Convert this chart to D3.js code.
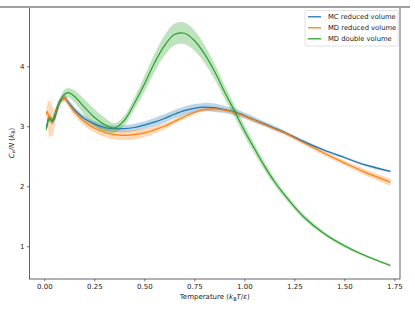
<!DOCTYPE html>
<html>
<head>
<meta charset="utf-8">
<script src="https://cdn.jsdelivr.net/npm/d3@7"></script>
<style>
  body { margin: 0; background: #fff; }
  text { font-family: "DejaVu Sans", sans-serif; fill: #222; }
</style>
</head>
<body>
<div id="chart"></div>
<script>
// Temperature grid shared by all three series
const temps = [0.01, 0.015, 0.02, 0.025, 0.03, 0.04, 0.05, 0.06, 0.08, 0.10, 0.12, 0.15,
    0.20, 0.25, 0.30, 0.35, 0.40, 0.45, 0.50, 0.55, 0.60, 0.65, 0.70, 0.75, 0.80, 0.85,
    0.90, 0.95, 1.00, 1.05, 1.10, 1.15, 1.20, 1.30, 1.40, 1.50, 1.60, 1.73];

// MC reduced volume
const mcReduced = [2.97, 3.05, 3.13, 3.15, 3.12, 3.10, 3.17, 3.28, 3.43, 3.47, 3.40, 3.28,
    3.13, 3.04, 2.98, 2.96, 2.96, 2.98, 3.02, 3.07, 3.13, 3.20, 3.26, 3.30, 3.32, 3.31,
    3.28, 3.24, 3.18, 3.11, 3.04, 2.97, 2.90, 2.74, 2.60, 2.48, 2.36, 2.25];
const mcReducedErr = [0.06, 0.06, 0.06, 0.06, 0.06, 0.06, 0.06, 0.06, 0.05, 0.05, 0.05, 0.05,
    0.05, 0.05, 0.05, 0.05, 0.06, 0.06, 0.06, 0.07, 0.07, 0.07, 0.07, 0.07, 0.07, 0.07,
    0.06, 0.06, 0.05, 0.05, 0.04, 0.04, 0.03, 0.03, 0.02, 0.02, 0.02, 0.02];

// MD reduced volume
const mdReduced = [3.20, 3.25, 3.18, 3.10, 3.14, 3.08, 3.12, 3.25, 3.42, 3.47, 3.38, 3.24,
    3.08, 2.97, 2.90, 2.86, 2.85, 2.86, 2.89, 2.94, 3.00, 3.08, 3.16, 3.23, 3.28, 3.29,
    3.27, 3.23, 3.17, 3.10, 3.03, 2.96, 2.89, 2.72, 2.55, 2.39, 2.24, 2.07];
const mdReducedErr = [0.08, 0.12, 0.25, 0.30, 0.30, 0.25, 0.15, 0.08, 0.05, 0.05, 0.05, 0.06,
    0.07, 0.07, 0.08, 0.08, 0.08, 0.08, 0.07, 0.06, 0.05, 0.04, 0.04, 0.03, 0.03, 0.03,
    0.03, 0.03, 0.03, 0.03, 0.03, 0.03, 0.03, 0.03, 0.04, 0.04, 0.05, 0.06];

// MD double volume
const mdDouble = [2.95, 3.03, 3.10, 3.13, 3.12, 3.08, 3.12, 3.22, 3.42, 3.53, 3.56, 3.50,
    3.32, 3.15, 3.03, 2.97, 3.10, 3.38, 3.70, 4.05, 4.34, 4.53, 4.55, 4.43, 4.21, 3.92,
    3.58, 3.26, 2.93, 2.63, 2.34, 2.08, 1.86, 1.48, 1.21, 1.01, 0.85, 0.68];
const mdDoubleErr = [0.05, 0.05, 0.05, 0.05, 0.05, 0.05, 0.05, 0.06, 0.07, 0.08, 0.08, 0.10,
    0.13, 0.14, 0.12, 0.08, 0.08, 0.10, 0.13, 0.15, 0.17, 0.18, 0.18, 0.17, 0.15, 0.13,
    0.11, 0.10, 0.09, 0.08, 0.07, 0.06, 0.05, 0.04, 0.03, 0.03, 0.02, 0.02];

const xTicks = [0, 0.25, 0.5, 0.75, 1.0, 1.25, 1.5, 1.75];
const yTicks = [1, 2, 3, 4];

const series = [
    { name: "MC reduced volume", mean: mcReduced, err: mcReducedErr, color: "#1f77b4" },
    { name: "MD reduced volume", mean: mdReduced, err: mdReducedErr, color: "#ff7f0e" },
    { name: "MD double volume", mean: mdDouble, err: mdDoubleErr, color: "#2ca02c" }
];

const W = 415, H = 312;
const plotLeft = 29.5, plotRight = 400, plotTop = 7, plotBottom = 279;

const svg = d3.select("#chart")
    .append("svg")
    .attr("width", W)
    .attr("height", H);

const x = d3.scaleLinear()
    .domain([-0.074, 1.778])
    .range([plotLeft, plotRight]);

const y = d3.scaleLinear()
    .domain([0.455, 4.988])
    .range([plotBottom, plotTop]);

// Bands first, then lines on top
const area = d3.area()
    .x(d => x(d.t))
    .y0(d => y(d.m - d.e))
    .y1(d => y(d.m + d.e))
    .curve(d3.curveCatmullRom);

const line = d3.line()
    .x(d => x(d.t))
    .y(d => y(d.m))
    .curve(d3.curveCatmullRom);

const plot = svg.append("g");

series.forEach(s => {
    const pts = temps.map((t, i) => ({ t, m: s.mean[i], e: s.err[i] }));
    plot.append("path")
        .attr("d", area(pts))
        .attr("fill", s.color)
        .attr("fill-opacity", 0.3)
        .attr("stroke", "none");
});

series.forEach(s => {
    const pts = temps.map((t, i) => ({ t, m: s.mean[i], e: s.err[i] }));
    plot.append("path")
        .attr("d", line(pts))
        .attr("fill", "none")
        .attr("stroke", s.color)
        .attr("stroke-width", 1.2);
});

// Axes
const xAxis = svg.append("g")
    .attr("transform", `translate(0,${plotBottom})`)
    .call(d3.axisBottom(x).tickValues(xTicks).tickFormat(d3.format(".2f")).tickSizeOuter(0).tickSize(2.5).tickPadding(2.5));

const yAxis = svg.append("g")
    .attr("transform", `translate(${plotLeft},0)`)
    .call(d3.axisLeft(y).tickValues(yTicks).tickFormat(d3.format("d")).tickSizeOuter(0).tickSize(2.5).tickPadding(2.5));

[xAxis, yAxis].forEach(g => {
    g.select(".domain").remove();
    g.selectAll(".tick line").attr("stroke", "#222").attr("stroke-width", 0.6);
    g.selectAll(".tick text").attr("font-size", 7).attr("fill", "#222")
        .style("font-family", "'DejaVu Sans', sans-serif");
});

// Frame
svg.append("rect")
    .attr("x", plotLeft)
    .attr("y", plotTop)
    .attr("width", plotRight - plotLeft)
    .attr("height", plotBottom - plotTop)
    .attr("fill", "none")
    .attr("stroke", "#222")
    .attr("stroke-width", 0.7);

// grey strip along the top edge
svg.append("line")
    .attr("x1", 0).attr("x2", 410)
    .attr("y1", 7).attr("y2", 7)
    .attr("stroke", "#a0a0a0")
    .attr("stroke-width", 1.8);

// Axis labels
const xl = svg.append("text")
    .attr("x", (plotLeft + plotRight) / 2)
    .attr("y", 299)
    .attr("text-anchor", "middle")
    .attr("font-size", 7);
xl.append("tspan").text("Temperature (");
xl.append("tspan").attr("font-style", "italic").text("k");
xl.append("tspan").attr("font-size", 5).attr("dy", 1.5).text("B");
xl.append("tspan").attr("font-style", "italic").attr("dy", -1.5).text("T");
xl.append("tspan").text("/");
xl.append("tspan").attr("font-style", "italic").text("ε");
xl.append("tspan").text(")");

const yl = svg.append("text")
    .attr("transform", `translate(13.5,${(plotTop + plotBottom) / 2}) rotate(-90)`)
    .attr("text-anchor", "middle")
    .attr("font-size", 7);
yl.append("tspan").attr("font-style", "italic").text("C");
yl.append("tspan").attr("font-style", "italic").attr("font-size", 5).attr("dy", 1.5).text("v");
yl.append("tspan").attr("font-style", "italic").attr("dy", -1.5).text("/N");
yl.append("tspan").text(" (");
yl.append("tspan").attr("font-style", "italic").text("k");
yl.append("tspan").attr("font-size", 5).attr("dy", 1.5).text("B");
yl.append("tspan").attr("dy", -1.5).text(")");

// Legend
const legend = svg.append("g");
legend.append("rect")
    .attr("x", 305)
    .attr("y", 10.5)
    .attr("width", 93)
    .attr("height", 35.5)
    .attr("rx", 1.5)
    .attr("fill", "#fff")
    .attr("fill-opacity", 0.8)
    .attr("stroke", "#ccc")
    .attr("stroke-width", 0.6);

series.forEach((s, i) => {
    const ly = 16.8 + i * 11;
    legend.append("line")
        .attr("x1", 308).attr("x2", 321)
        .attr("y1", ly).attr("y2", ly)
        .attr("stroke", s.color)
        .attr("stroke-width", 1.3);
    legend.append("text")
        .attr("x", 328)
        .attr("y", ly + 2.4)
        .attr("font-size", 6.8)
        .text(s.name);
});
</script>
</body>
</html>
